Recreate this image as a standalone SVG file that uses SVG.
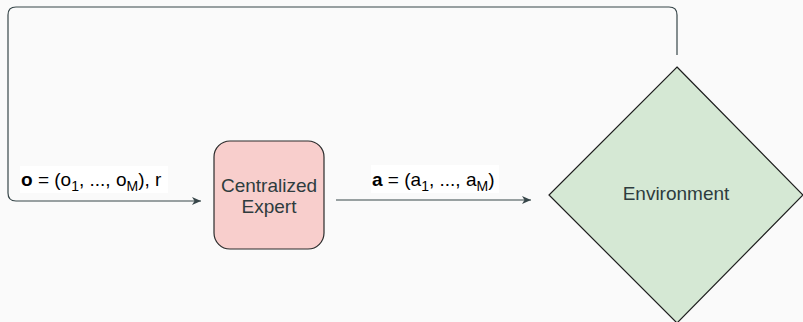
<svg xmlns="http://www.w3.org/2000/svg" width="803" height="322" viewBox="0 0 803 322">
  <style>
    .edge { fill: none; stroke: #374649; stroke-width: 1.2; }
    .node-text { font-family: "Liberation Sans", Arial, sans-serif; font-size: 19px; fill: #2E3C3E; text-anchor: middle; }
    .label { font-family: "Liberation Sans", Arial, sans-serif; font-size: 19px; fill: #000; }
    .label-bg { fill: #FFFFFF; }
  </style>
  <defs>
    <marker id="arrow" viewBox="0 0 10 10" refX="9" refY="5" markerWidth="10" markerHeight="10" markerUnits="userSpaceOnUse" orient="auto">
      <path d="M0,1 L9,5 L0,9 L2.5,5 Z" fill="#374649"/>
    </marker>
  </defs>
  <rect width="803" height="322" fill="#FAFAFA"/>

  <g id="connectors">
    <!-- feedback loop: environment back to the expert -->
    <path class="edge" d="M677,55 L677,15 Q677,7 669,7 L16,7 Q8,7 8,15 L8,193 Q8,201 16,201 L201,201" marker-end="url(#arrow)"/>
    <!-- action from expert to environment -->
    <path class="edge" d="M336,200 L531,200" marker-end="url(#arrow)"/>
  </g>

  <g id="label-observation">
    <rect class="label-bg" x="20" y="166" width="148" height="27"/>
    <text class="label" x="21" y="186"><tspan font-weight="bold">o</tspan> = (o<tspan font-size="14" dy="5">1</tspan><tspan dy="-5">, ..., o</tspan><tspan font-size="14" dy="5">M</tspan><tspan dy="-5">), r</tspan></text>
  </g>

  <g id="label-action">
    <rect class="label-bg" x="371" y="165" width="128" height="28"/>
    <text class="label" x="372" y="186"><tspan font-weight="bold">a</tspan> = (a<tspan font-size="14" dy="5">1</tspan><tspan dy="-5">, ..., a</tspan><tspan font-size="14" dy="5">M</tspan><tspan dy="-5">)</tspan></text>
  </g>

  <g id="centralized-expert">
    <rect x="214" y="141" width="110" height="108" rx="16" ry="16" fill="#F8CECC" stroke="#2B2B2B" stroke-width="1.2"/>
    <text class="node-text" x="269" y="192">Centralized</text>
    <text class="node-text" x="269" y="213">Expert</text>
  </g>

  <g id="environment">
    <polygon points="677,67 803,195 677,323 549,195" fill="#D5E8D4" stroke="#1E1E1E" stroke-width="1.2"/>
    <text class="node-text" x="676" y="200">Environment</text>
  </g>
</svg>
